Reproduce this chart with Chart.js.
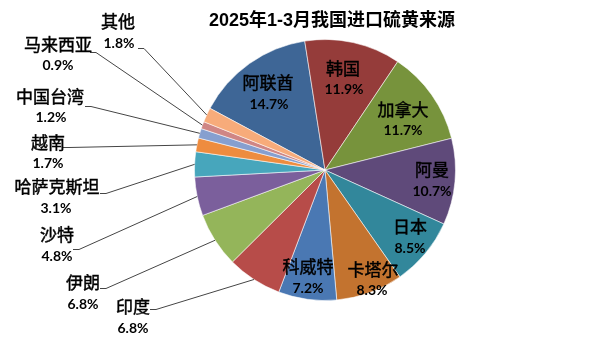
<!DOCTYPE html>
<html lang="zh">
<head>
    <meta charset="UTF-8">
    <title>2025年1-3月我国进口硫黄来源</title>
    <script src="https://cdn.jsdelivr.net/npm/chart.js@4.4.1/dist/chart.umd.min.js"></script>
    <style>
        html, body { margin: 0; padding: 0; background: #fff; }
    </style>
</head>
<body>
    <canvas id="chart" width="605" height="339"></canvas>

    <script>
        // Import sources, share of total (%), drawn clockwise
        const title = "2025年1-3月我国进口硫黄来源";
        const sources = ["阿联酋", "韩国", "加拿大", "阿曼", "日本", "卡塔尔", "科威特",
                         "印度", "伊朗", "沙特", "哈萨克斯坦", "越南", "中国台湾", "马来西亚", "其他"];
        const shares = [14.7, 11.9, 11.7, 10.7, 8.5, 8.3, 7.2, 6.8, 6.8, 4.8, 3.1, 1.7, 1.2, 0.9, 1.8];

        const colors = ["#3e6696", "#953c3a", "#77933c", "#5f4a7a", "#32879b", "#c3732f", "#4a78b3",
                        "#b74c49", "#94b55a", "#7b5f9c", "#47a6bc", "#ee8c3f", "#869fcf", "#cf8685", "#f7ab7a"];

        // where the two label lines go (name / percent); outside ones get a leader line
        const labelLayout = {
            "阿联酋":   { name: [268, 83],  pct: [269, 104] },
            "韩国":     { name: [343, 69],  pct: [344, 89] },
            "加拿大":   { name: [403, 110], pct: [403, 130] },
            "阿曼":     { name: [432, 170], pct: [432, 191] },
            "日本":     { name: [410, 227], pct: [410, 248] },
            "卡塔尔":   { name: [373, 270], pct: [372, 290] },
            "科威特":   { name: [308, 267], pct: [308, 288] },
            "印度":     { name: [133, 307], pct: [133, 328], line: [150, 309] },
            "伊朗":     { name: [83, 283],  pct: [83, 304],  line: [100, 288] },
            "沙特":     { name: [57, 235],  pct: [57, 256],  line: [73, 249] },
            "哈萨克斯坦": { name: [57, 187], pct: [56, 208], line: [100, 193] },
            "越南":     { name: [48, 143],  pct: [48, 163],  line: [63, 147] },
            "中国台湾": { name: [50, 97],   pct: [51, 117],  line: [85, 106] },
            "马来西亚": { name: [58, 45],   pct: [58, 65],   line: [90, 52] },
            "其他":     { name: [118, 22],  pct: [119, 43],  line: [138, 48] }
        };

        const labelsPlugin = {
            id: "pieLabels",
            afterDraw(chart) {
                const ctx = chart.ctx;
                const arcs = chart.getDatasetMeta(0).data;
                ctx.save();

                // title
                ctx.fillStyle = "#000";
                ctx.textAlign = "center";
                ctx.textBaseline = "middle";
                ctx.font = "bold 18px 'Liberation Sans', 'Noto Sans CJK SC'";
                ctx.fillText(title, 332, 21);

                arcs.forEach((arc, i) => {
                    const name = sources[i];
                    const pos = labelLayout[name];
                    if (!pos) return;

                    if (pos.line) {
                        const p = arc.getProps(["x", "y", "startAngle", "endAngle", "outerRadius"], true);
                        const mid = (p.startAngle + p.endAngle) / 2;
                        const ex = p.x + Math.cos(mid) * p.outerRadius;
                        const ey = p.y + Math.sin(mid) * p.outerRadius;
                        ctx.strokeStyle = "#454545";
                        ctx.lineWidth = 1;
                        ctx.beginPath();
                        ctx.moveTo(pos.line[0], pos.line[1] + 0.5);
                        ctx.lineTo(pos.line[0] + 6, pos.line[1] + 0.5);
                        ctx.lineTo(ex, ey);
                        ctx.stroke();
                    }

                    // names a bit heavier than the regular CJK face
                    ctx.fillStyle = "#000";
                    ctx.strokeStyle = "#000";
                    ctx.lineWidth = 0.45;
                    ctx.font = "17px 'Noto Sans CJK SC'";
                    ctx.fillText(name, pos.name[0], pos.name[1]);
                    ctx.strokeText(name, pos.name[0], pos.name[1]);
                    ctx.font = "bold 14px Lato";
                    ctx.fillText(shares[i].toFixed(1) + "%", pos.pct[0], pos.pct[1]);
                });
                ctx.restore();
            }
        };

        new Chart(document.getElementById("chart"), {
            type: "pie",
            data: {
                labels: sources,
                datasets: [{
                    data: shares,
                    backgroundColor: colors,
                    borderColor: "rgba(255,255,255,0.55)",
                    borderWidth: 1
                }]
            },
            options: {
                responsive: false,
                animation: false,
                rotation: -61.8,
                layout: { padding: { top: 39, bottom: 38, left: 194, right: 149 } },
                plugins: {
                    legend: { display: false },
                    tooltip: { enabled: false }
                }
            },
            plugins: [labelsPlugin]
        });
    </script>
</body>
</html>
